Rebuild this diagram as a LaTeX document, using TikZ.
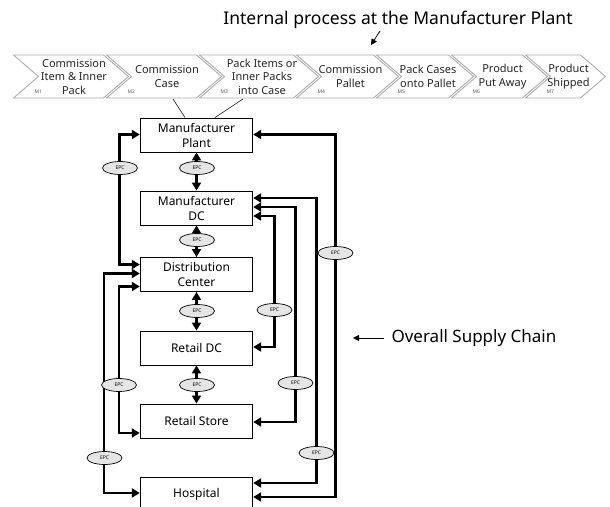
\documentclass[tikz,border=0pt]{standalone}
\usepackage{fontspec}
\setmainfont{Noto Sans}
\usetikzlibrary{arrows.meta,shapes.geometric,calc}
\begin{document}
\begin{tikzpicture}[x=1pt,y=-1pt,
  box/.style={draw,line width=0.9pt,minimum width=112.5pt,minimum height=34pt,inner sep=1pt,align=center,font=\fontsize{12}{15}\selectfont},
  conn/.style={line width=2.6pt,{Triangle[length=8pt,width=9pt]}-{Triangle[length=8pt,width=9pt]}},
  epc/.style={ellipse,draw,line width=0.7pt,fill=gray!20,minimum width=35pt,minimum height=13pt,inner sep=0pt,font=\fontsize{5}{5}\selectfont},
  chev/.style={draw=gray!65,line width=0.9pt,fill=white},
  chevtext/.style={align=center,font=\fontsize{11}{13.5}\selectfont,text=black!85},
  mlabel/.style={anchor=west,font=\fontsize{5}{5}\selectfont,text=gray!70!black},
  thinarrow/.style={line width=0.8pt,-{Triangle[length=6pt,width=6pt]}}]
\useasboundingbox (0,0) rectangle (610,506);

% title
\node[font=\fontsize{17.5}{20}\selectfont] (title) at (398,20) {Internal process at the Manufacturer Plant};
\coordinate (ta) at (380,31);
\coordinate (tb) at (371,45);
\draw[thinarrow] (ta) -- (tb);

% chevrons
\foreach \L/\R/\t/\m [count=\i] in {
  12/105/{Commission\\Item \& Inner\\Pack}/M1,
  105/198/{Commission\\Case}/M2,
  198/295/{Pack Items or\\Inner Packs\\into Case}/M3,
  295/375/{Commission\\Pallet}/M4,
  375/450/{Pack Cases\\onto Pallet}/M5,
  450/524/{Product\\Put Away}/M6,
  524/582/{Product\\Shipped}/M7}{
  \draw[chev] ({\L+1.5},55) -- ({\R-1.5},55) -- ({\R+23.5},76.5) -- ({\R-1.5},98) -- ({\L+1.5},98) -- ({\L+26.5},76.5) -- cycle;
  \node[chevtext] (m\i) at ({(\L+\R+25)/2+3},76.5) {\t};
  \node[mlabel] (ml\i) at ({\L+19},92) {\m};
}

% boxes
\node[box] (plant) at (196.5,135) {Manufacturer\\Plant};
\node[box] (mdc) at (196.5,208) {Manufacturer\\DC};
\node[box] (dc) at (196.5,274.5) {Distribution\\Center};
\node[box] (rdc) at (196.5,348) {Retail DC};
\node[box] (rs) at (196.5,421) {Retail Store};
\node[box] (hosp) at (196.5,494) {Hospital};

% lines from chevrons to plant
\coordinate (c2) at (173,99);
\coordinate (c3) at (243,99);
\draw[line width=0.7pt,black!80] (c2) -- ([xshift=-11.5pt]plant.north);
\draw[line width=0.7pt,black!80] (c3) -- ([xshift=18.5pt]plant.north);

% vertical connectors
\draw[conn] (plant.south) -- (mdc.north);
\draw[conn] (mdc.south) -- (dc.north);
\draw[conn] (dc.south) -- (rdc.north);
\draw[conn] (rdc.south) -- (rs.north);

% left connectors
\draw[conn] ([yshift=0.5pt]plant.west) -- ++(-20.5,0) |- ([yshift=10pt]dc.west);
\draw[conn] ([yshift=1pt]dc.west) -- ++(-36,0) |- ([yshift=1pt]hosp.west);
\draw[conn] ([yshift=-12pt]dc.west) -- ++(-21,0) |- ([yshift=-12pt]rs.west);

% right connectors
\draw[conn] ([yshift=0.5pt]plant.east) -- ++(82,0) |- ([yshift=-3pt]hosp.east);
\draw[conn] ([yshift=10pt]mdc.east) -- ++(63,0) |- ([yshift=11pt]hosp.east);
\draw[conn] ([yshift=1pt]mdc.east) -- ++(42,0) |- ([yshift=-1pt]rs.east);
\draw[conn] ([yshift=-8pt]mdc.east) -- ++(21,0) |- ([yshift=1pt]rdc.east);

% EPC tags
\node[epc] (e1) at (197,168) {EPC};
\node[epc] (e2) at (197,240) {EPC};
\node[epc] (e3) at (197,311) {EPC};
\node[epc] (e4) at (197,385) {EPC};
\node[epc] (e5) at (120,168) {EPC};
\node[epc] (e6) at (104.5,458) {EPC};
\node[epc] (e7) at (119,385) {EPC};
\node[epc] (e8) at (335.5,253) {EPC};
\node[epc] (e9) at (316.5,453) {EPC};
\node[epc] (e10) at (295.5,383) {EPC};
\node[epc] (e11) at (274.5,310) {EPC};

% overall supply chain label
\node[anchor=west,font=\fontsize{17}{20}\selectfont] (osc) at (388,338) {Overall Supply Chain};
\coordinate (oscarrow) at (353,338);
\draw[thinarrow] ([xshift=-4pt]osc.west) -- (oscarrow);
\end{tikzpicture}
\end{document}
